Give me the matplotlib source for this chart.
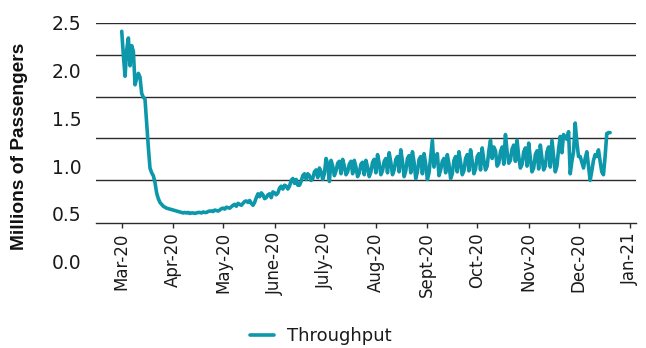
import matplotlib
matplotlib.use("Agg")
import matplotlib.pyplot as plt
import matplotlib.dates as mdates
import pandas as pd
import numpy as np

# Daily throughput (millions of passengers), starting Sunday 2020-03-01, one row per week (Sun..Sat)
throughput = [
    2.41, 2.15, 1.94, 2.22, 2.34, 2.05, 2.26,
    2.20, 1.85, 1.92, 1.97, 1.93, 1.76, 1.72,
    1.70, 1.45, 1.20, 0.98, 0.93, 0.90, 0.83,
    0.72, 0.66, 0.62, 0.60, 0.58, 0.57, 0.56,
    0.555, 0.55, 0.545, 0.54, 0.535, 0.53, 0.525,
    0.52, 0.515, 0.51, 0.515, 0.51, 0.515, 0.505,
    0.51, 0.51, 0.505, 0.51, 0.515, 0.515, 0.51,
    0.52, 0.515, 0.515, 0.525, 0.53, 0.53, 0.525,
    0.54, 0.535, 0.53, 0.54, 0.555, 0.56, 0.55,
    0.57, 0.565, 0.56, 0.575, 0.59, 0.60, 0.58,
    0.61, 0.60, 0.59, 0.61, 0.63, 0.635, 0.62,
    0.64, 0.61, 0.59, 0.62, 0.67, 0.71, 0.68,
    0.72, 0.70, 0.66, 0.67, 0.70, 0.71, 0.67,
    0.73, 0.72, 0.70, 0.72, 0.77, 0.79, 0.76,
    0.80, 0.79, 0.76, 0.79, 0.85, 0.87, 0.82,
    0.86, 0.80, 0.80, 0.84, 0.90, 0.92, 0.86,
    0.92, 0.90, 0.85, 0.87, 0.94, 0.96, 0.88,
    0.98, 0.94, 0.86, 0.92, 1.08, 1.02, 0.84,
    1.06, 1.00, 0.90, 0.95, 1.03, 1.05, 0.92,
    1.07, 1.00, 0.91, 0.94, 1.02, 1.05, 0.92,
    1.06, 0.99, 0.89, 0.93, 1.02, 1.04, 0.91,
    1.06, 0.99, 0.89, 0.94, 1.04, 1.07, 0.93,
    1.12, 1.03, 0.91, 0.95, 1.05, 1.08, 0.93,
    1.14, 1.04, 0.91, 0.96, 1.07, 1.10, 0.94,
    1.17, 1.05, 0.89, 0.95, 1.08, 1.11, 0.93,
    1.15, 1.04, 0.87, 0.94, 1.07, 1.10, 0.92,
    1.13, 1.02, 0.86, 0.93, 1.10, 1.27, 0.99,
    1.10, 1.13, 0.90, 0.96, 1.05, 1.08, 0.93,
    1.12, 1.02, 0.87, 0.92, 1.06, 1.10, 0.94,
    1.15, 1.04, 0.91, 0.95, 1.08, 1.12, 0.95,
    1.17, 1.05, 0.92, 0.97, 1.10, 1.13, 0.96,
    1.19, 1.06, 0.96, 1.00, 1.16, 1.27, 1.08,
    1.20, 1.16, 1.00, 1.03, 1.15, 1.20, 1.02,
    1.33, 1.15, 1.03, 1.06, 1.18, 1.22, 1.05,
    1.27, 1.10, 0.98, 1.02, 1.15, 1.19, 1.00,
    1.24, 1.08, 0.94, 0.98, 1.12, 1.16, 0.97,
    1.22, 1.08, 0.96, 1.00, 1.15, 1.20, 0.99,
    1.27, 1.10, 0.94, 1.00, 1.18, 1.31, 1.14,
    1.33, 1.30, 1.28, 1.36, 0.92, 1.05, 1.15,
    1.45, 1.25, 1.10, 1.10, 1.04, 0.98, 1.08,
    1.15, 1.00, 0.85, 0.95, 1.06, 1.12, 1.10,
    1.17, 1.05, 0.94, 0.91, 1.10, 1.34, 1.35,
    1.35,
]
start_date = "2020-03-01"
month_ticks = pd.date_range("2020-03-01", "2021-01-01", freq="MS")
month_labels = ["Mar-20", "Apr-20", "May-20", "June-20", "July-20", "Aug-20",
                "Sept-20", "Oct-20", "Nov-20", "Dec-20", "Jan-21"]
y_ticks = [0.0, 0.5, 1.0, 1.5, 2.0, 2.5]
series_name = "Throughput"

dates = pd.date_range(start_date, periods=len(throughput), freq="D")

W, H = 646, 348
plt.rcParams["font.family"] = ["DejaVu Sans"]
fig = plt.figure(figsize=(W / 100, H / 100), dpi=100)

ax = fig.add_axes([96 / W, (H - 261.7) / H, 540 / W, (261.7 - 22.7) / H])
color = "#0c97ab"
ax.plot(dates, throughput, color=color, lw=2.6, solid_joinstyle="round",
        solid_capstyle="round", label=series_name, zorder=3)

x0 = mdates.date2num(pd.Timestamp("2020-03-01")) - 15.5
x1 = mdates.date2num(pd.Timestamp("2021-01-01")) + 3.6
ax.set_xlim(x0, x1)
ax.set_ylim(0, 2.5)

# horizontal rules (as drawn in the reference)
for yv in [2.5, 2.162, 1.726, 1.290, 0.854]:
    ax.axhline(yv, color="#2b2b2b", lw=1.0, zorder=1)

for s in ["left", "right", "top"]:
    ax.spines[s].set_visible(False)
ax.spines["bottom"].set_position(("data", 0.402))
ax.spines["bottom"].set_color("#2b2b2b")
ax.spines["bottom"].set_linewidth(1.0)

ax.set_xticks(month_ticks)
ax.set_xticklabels(month_labels, rotation=90, fontsize=12, color="#1a1a1a")
ax.tick_params(axis="x", direction="out", length=3.4, width=1.0, color="#2b2b2b", pad=3.1)

ax.set_yticks(y_ticks)
ax.set_yticklabels([f"{v:.1f}" for v in y_ticks], fontsize=13.5, color="#1a1a1a")
ax.tick_params(axis="y", length=0, pad=10.3)

fig.text(20 / W, (H - 146) / H, "Millions of Passengers", rotation=90,
         ha="center", va="center", fontsize=13.75, fontweight="bold", color="#111111",
         family=["Liberation Sans", "DejaVu Sans"])

leg = fig.legend(loc="center", bbox_to_anchor=(321 / W, (H - 336) / H), frameon=False,
                 fontsize=13, handlelength=1.33, handletextpad=0.72)
for t in leg.get_texts():
    t.set_color("#1a1a1a")

fig.savefig("out.png", dpi=100)
